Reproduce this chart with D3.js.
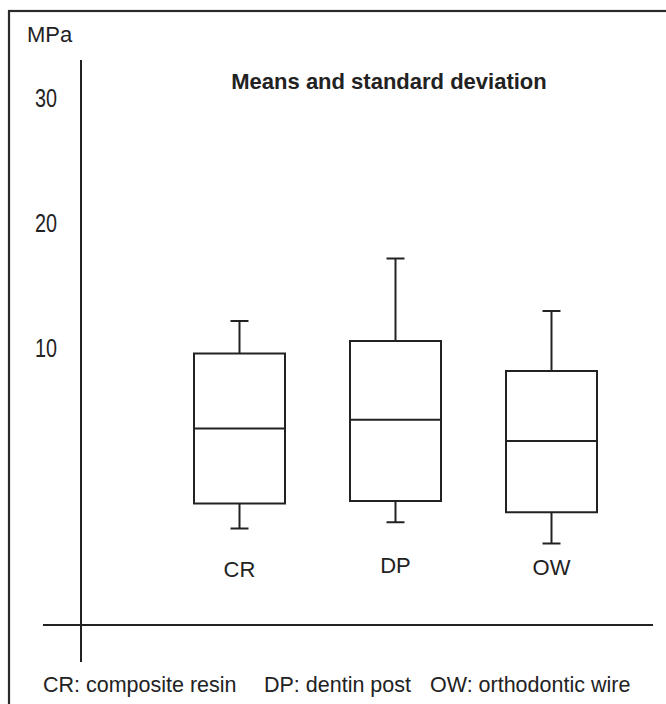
<!DOCTYPE html>
<html>
<head>
<meta charset="utf-8">
<script src="https://cdnjs.cloudflare.com/ajax/libs/d3/7.8.5/d3.min.js"></script>
<style>
    body { margin: 0; background: #fff; }
    text { font-family: "Liberation Sans", Arial, sans-serif; fill: #222; }
</style>
</head>
<body>
<script>
var categories = ['CR', 'DP', 'OW'];
var whiskerHigh = [12.2, 17.2, 13.0];
var boxTop = [9.6, 10.6, 8.2];
var means = [3.6, 4.3, 2.6];
var boxBottom = [-2.4, -2.2, -3.1];
var whiskerLow = [-4.4, -3.9, -5.6];
var tickValues = [10, 20, 30];
var footnotes = ['CR: composite resin', 'DP: dentin post', 'OW: orthodontic wire'];

var ink = '#222';

var svg = d3.select('body').append('svg')
    .attr('width', 666).attr('height', 704);

// frame (right and bottom edges cut off in the original)
svg.append('rect').attr('x', 9).attr('y', 11).attr('width', 700).attr('height', 720)
    .style('fill', 'none').style('stroke', '#2a2a2a').style('stroke-width', 2.2);

var y = d3.scaleLinear().domain([0, 30]).range([473.5, 98.5]);
var x = d3.scalePoint().domain(categories).range([239.5, 551.5]);
var boxW = 91, capW = 18;

var boxes = categories.map(function(c, i) {
    return {cat: c, hi: whiskerHigh[i], top: boxTop[i], mean: means[i], bot: boxBottom[i], lo: whiskerLow[i]};
});

// axis lines
svg.append('line').attr('x1', 81).attr('x2', 81).attr('y1', 60).attr('y2', 662)
    .style('stroke', ink).style('stroke-width', 2);
svg.append('line').attr('x1', 43).attr('x2', 653).attr('y1', 625).attr('y2', 625)
    .style('stroke', ink).style('stroke-width', 2);

var yAxis = svg.append('g').attr('transform', 'translate(81,0)')
    .call(d3.axisLeft(y).tickValues(tickValues).tickSize(0).tickPadding(24));
yAxis.select('.domain').remove();
// tall, narrow digits like the original bitmap font
yAxis.selectAll('text')
    .style('font-family', '"Liberation Sans", Arial, sans-serif')
    .style('font-size', '26px').style('fill', ink)
    .attr('textLength', 22).attr('lengthAdjust', 'spacingAndGlyphs');

svg.append('text').attr('x', 27).attr('y', 42).style('font-size', '22px').text('MPa');

svg.append('text').attr('x', 389).attr('y', 89).attr('text-anchor', 'middle')
    .style('font-size', '22px').style('font-weight', 'bold').text('Means and standard deviation');

var g = svg.selectAll('.box').data(boxes).enter().append('g').attr('class', 'box')
    .style('stroke', ink).style('stroke-width', 2).style('fill', 'none');

g.append('line').attr('x1', function(d) { return x(d.cat); }).attr('x2', function(d) { return x(d.cat); })
    .attr('y1', function(d) { return y(d.hi); }).attr('y2', function(d) { return y(d.top); });
g.append('line').attr('x1', function(d) { return x(d.cat); }).attr('x2', function(d) { return x(d.cat); })
    .attr('y1', function(d) { return y(d.bot); }).attr('y2', function(d) { return y(d.lo); });
g.append('line').attr('x1', function(d) { return x(d.cat) - capW / 2; }).attr('x2', function(d) { return x(d.cat) + capW / 2; })
    .attr('y1', function(d) { return y(d.hi); }).attr('y2', function(d) { return y(d.hi); });
g.append('line').attr('x1', function(d) { return x(d.cat) - capW / 2; }).attr('x2', function(d) { return x(d.cat) + capW / 2; })
    .attr('y1', function(d) { return y(d.lo); }).attr('y2', function(d) { return y(d.lo); });
g.append('rect').attr('x', function(d) { return x(d.cat) - boxW / 2; }).attr('width', boxW)
    .attr('y', function(d) { return y(d.top); })
    .attr('height', function(d) { return y(d.bot) - y(d.top); })
    .style('fill', '#fff');
g.append('line').attr('x1', function(d) { return x(d.cat) - boxW / 2; }).attr('x2', function(d) { return x(d.cat) + boxW / 2; })
    .attr('y1', function(d) { return y(d.mean); }).attr('y2', function(d) { return y(d.mean); });

// category labels sit slightly unevenly in the original
var labelBase = [577, 573, 575];
svg.selectAll('.cat').data(categories).enter().append('text').attr('class', 'cat')
    .attr('x', function(d) { return x(d); }).attr('y', function(d, i) { return labelBase[i]; })
    .attr('text-anchor', 'middle').style('font-size', '22px').text(function(d) { return d; });

var footX = [43, 264, 430];
svg.selectAll('.foot').data(footnotes).enter().append('text').attr('class', 'foot')
    .attr('x', function(d, i) { return footX[i]; }).attr('y', 692)
    .style('font-size', '21.5px').text(function(d) { return d; });
</script>
</body>
</html>
